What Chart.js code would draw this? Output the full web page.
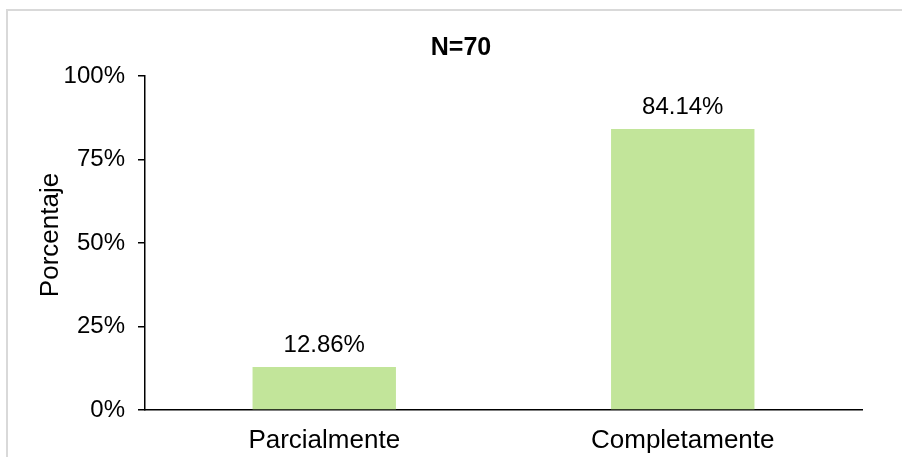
<!DOCTYPE html>
<html>
<head>
<meta charset="utf-8">
<script src="https://cdn.jsdelivr.net/npm/chart.js@4"></script>
<style>
    html, body { margin: 0; padding: 0; background: #fff; overflow: hidden; }
    #wrap { position: relative; width: 922px; height: 457px; }
    #frame {
        position: absolute; left: 6px; top: 9px; width: 920px; height: 470px;
        border: 2px solid #d9d9d9; box-sizing: border-box; pointer-events: none;
    }
    canvas { position: absolute; left: 0; top: 0; }
</style>
</head>
<body>
<div id="wrap">
    <canvas id="chart" width="922" height="457"></canvas>
    <div id="frame"></div>
</div>
<script>
let categories = ['Parcialmente', 'Completamente'];
let percentages = [12.86, 84.14];
let yTicks = [0, 25, 50, 75, 100];
let chartTitle = 'N=70';
let yTitle = 'Porcentaje';

let barColor = 'rgb(194, 229, 154)';
let fontFamily = '"Liberation Sans", Arial, sans-serif';

// draws the value above each bar, the title and the y axis title
let labelPlugin = {
    id: 'labelPlugin',
    afterDatasetsDraw(chart) {
        let ctx = chart.ctx;
        ctx.save();
        ctx.fillStyle = '#000';
        ctx.textAlign = 'center';
        ctx.textBaseline = 'alphabetic';
        ctx.font = '24px ' + fontFamily;
        let meta = chart.getDatasetMeta(0);
        meta.data.forEach(function (bar, i) {
            ctx.fillText(percentages[i].toFixed(2) + '%', bar.x, bar.y - 15);
        });
        ctx.font = 'bold 25px ' + fontFamily;
        ctx.fillText(chartTitle, chart.width / 2, 55);

        let area = chart.chartArea;
        ctx.font = '26px ' + fontFamily;
        ctx.textBaseline = 'middle';
        ctx.translate(51, (area.top + area.bottom) / 2 - 8);
        ctx.rotate(-Math.PI / 2);
        ctx.fillText(yTitle, 0, 0);
        ctx.restore();
    }
};

let ctx = document.getElementById('chart').getContext('2d');
let myChart = new Chart(ctx, {
    type: 'bar',
    data: {
        labels: categories,
        datasets: [{
            data: percentages,
            backgroundColor: barColor,
            borderWidth: 0,
            barPercentage: 0.4,
            categoryPercentage: 1.0
        }]
    },
    options: {
        responsive: false,
        animation: false,
        layout: { padding: { left: 0, right: 60, top: 76, bottom: 0 } },
        plugins: {
            legend: { display: false },
            tooltip: { enabled: false }
        },
        scales: {
            x: {
                grid: { drawOnChartArea: false, drawTicks: false },
                border: { display: true, color: '#000', width: 1.5 },
                ticks: {
                    color: '#000',
                    padding: 15,
                    font: { family: fontFamily, size: 26 }
                },
                afterFit: function (scale) { scale.height = 47; }
            },
            y: {
                min: 0,
                max: 100,
                afterBuildTicks: function (scale) {
                    scale.ticks = yTicks.map(function (v) { return { value: v }; });
                },
                grid: { drawOnChartArea: false, drawTicks: true, tickLength: 7, color: '#000', lineWidth: 1.5 },
                border: { display: true, color: '#000', width: 1.5 },
                ticks: {
                    color: '#000',
                    padding: 13,
                    font: { family: fontFamily, size: 24 },
                    callback: function (v) { return v + '%'; }
                },
                afterFit: function (scale) { scale.width = 145; }
            }
        }
    },
    plugins: [labelPlugin]
});
</script>
</body>
</html>
